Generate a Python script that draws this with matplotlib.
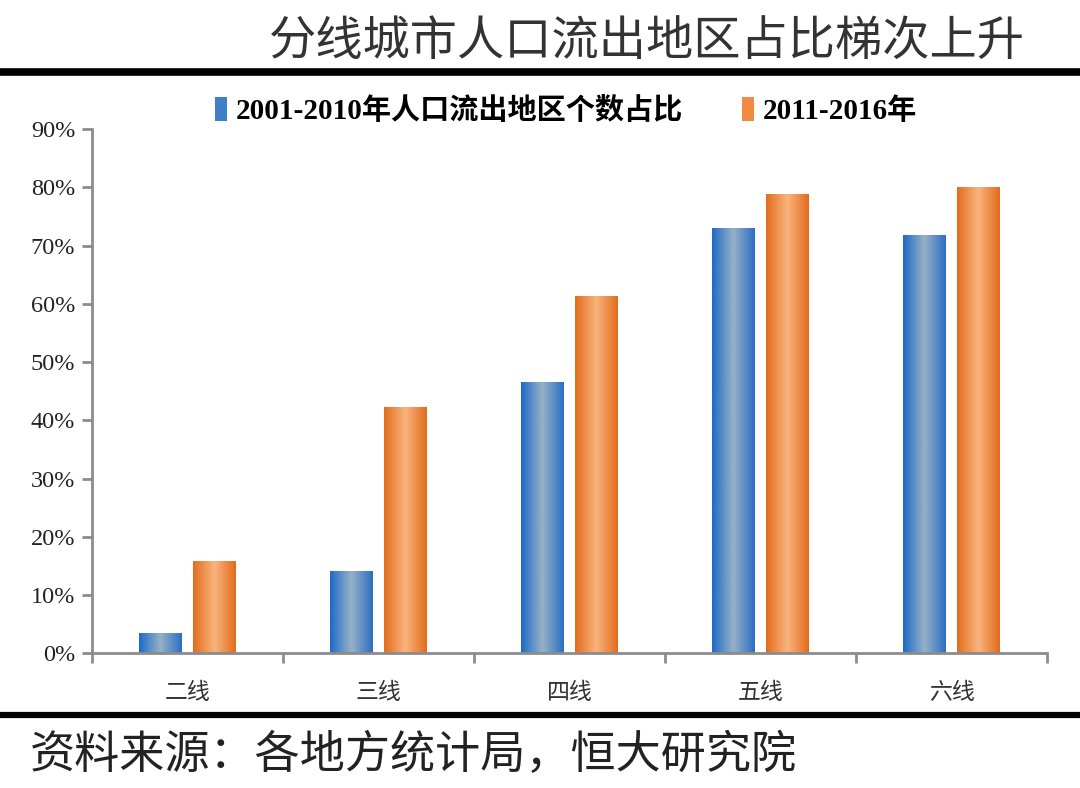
import numpy as np
import matplotlib.pyplot as plt
from matplotlib.colors import LinearSegmentedColormap
from matplotlib.patches import Patch
from matplotlib.lines import Line2D

plt.rcParams['font.family'] = ['Liberation Serif', 'Noto Sans CJK SC', 'DejaVu Sans']

categories = ['二线', '三线', '四线', '五线', '六线']
series_names = ['2001-2010年人口流出地区个数占比', '2011-2016年']
share_2001_2010 = [3.4, 14.2, 46.6, 73.0, 71.8]
share_2011_2016 = [15.8, 42.3, 61.4, 78.9, 80.1]
yticks = [0, 10, 20, 30, 40, 50, 60, 70, 80, 90]

blue_cmap = LinearSegmentedColormap.from_list('b', ['#1c6bc7', '#97b1c7', '#2b6ec2'])
orange_cmap = LinearSegmentedColormap.from_list('o', ['#e36d1c', '#f9b47e', '#e26b1a'])

fig = plt.figure(figsize=(10.8, 7.88), dpi=100)
ax = fig.add_axes([0.0852, 0.171, 0.8846, 0.665])

x = np.arange(len(categories))
width = 0.225
offset = 0.142
grad = np.linspace(0, 1, 256).reshape(1, -1)


def gradient_bars(xpos, vals, cmap):
    bars = ax.bar(xpos, vals, width, color='none', edgecolor='none', zorder=2)
    for rect in bars:
        x0, y0 = rect.get_xy()
        w, h = rect.get_width(), rect.get_height()
        im = ax.imshow(grad, extent=[x0, x0 + w, y0, y0 + h], aspect='auto',
                       cmap=cmap, zorder=2, interpolation='bilinear')
        im.set_clip_path(rect)
    return bars


gradient_bars(x - offset, share_2001_2010, blue_cmap)
gradient_bars(x + offset, share_2011_2016, orange_cmap)

ax.set_xlim(-0.5, len(categories) - 0.5)
ax.set_ylim(0, 90)
ax.set_aspect('auto')

for s in ['top', 'right']:
    ax.spines[s].set_visible(False)
for s in ['left', 'bottom']:
    ax.spines[s].set_color('#8c8c8c')
    ax.spines[s].set_linewidth(2)

ax.set_yticks(yticks)
ax.set_yticklabels([f'{v}%' for v in yticks], fontsize=17.5, color='#222222')
ax.set_xticks(np.arange(len(categories) + 1) - 0.5)
ax.set_xticklabels([])
ax.set_xticks(x, minor=True)
ax.set_xticklabels(categories, minor=True, fontsize=16.5, color='#333333',
                   family=['Noto Sans CJK SC'])
ax.tick_params(axis='x', which='minor', length=0, pad=20)
ax.tick_params(axis='x', which='major', length=7, width=2, color='#8c8c8c')
ax.tick_params(axis='y', length=7, width=2, color='#8c8c8c', pad=5)

handles = [Patch(facecolor='#3f7fc8', edgecolor='none'),
           Patch(facecolor='#f08a45', edgecolor='none')]
fig.legend(handles, series_names, loc='center', bbox_to_anchor=(0.524, 0.859),
           ncol=2, frameon=False, handlelength=0.42, handleheight=0.85,
           handletextpad=0.3, columnspacing=2.0,
           prop={'family': ['Liberation Serif', 'Noto Sans CJK SC'],
                 'weight': 'bold', 'size': 21})

fig.text(0.599, 0.946, '分线城市人口流出地区占比梯次上升', ha='center', va='center',
         fontsize=34, color='#333333', weight='light', family=['Noto Sans CJK SC'])
fig.add_artist(Line2D([0, 1], [0.909, 0.909], color='black', linewidth=5.5,
                      transform=fig.transFigure))
fig.add_artist(Line2D([0, 1], [0.0926, 0.0926], color='black', linewidth=4.5,
                      transform=fig.transFigure))
fig.text(0.028, 0.042, '资料来源：各地方统计局，恒大研究院', ha='left', va='center',
         fontsize=32.5, color='#222222', style='italic', weight='light',
         family=['Noto Sans CJK SC'])

fig.savefig('out.png', dpi=100)
